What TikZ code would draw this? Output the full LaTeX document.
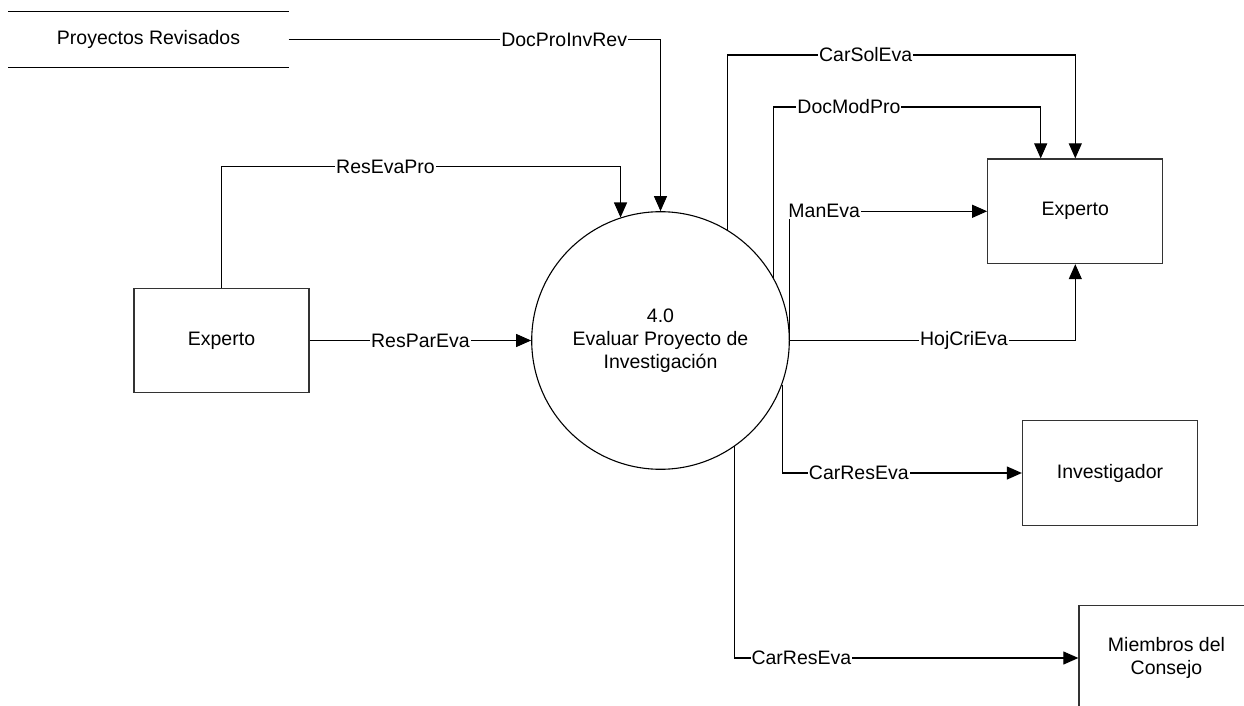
\documentclass[tikz,border=0pt]{standalone}
\usepackage{fontspec}
\setmainfont{Liberation Sans}
\usetikzlibrary{arrows.meta}
\begin{document}
\begin{tikzpicture}[x=0.5pt,y=-0.5pt,
  font=\fontsize{9.75}{11.5}\selectfont,
  line width=0.55pt,
  store/.style={minimum width=139.5pt, minimum height=27.5pt, inner sep=0pt},
  ent/.style={draw=black!80, line width=0.65pt, minimum width=87.5pt, minimum height=52.25pt, inner sep=0pt, align=center},
  procnode/.style={circle, draw, minimum size=128.8pt, inner sep=0pt, align=center},
  flow/.style={-{Triangle[length=7.5pt,width=6.5pt]}},
  lbl/.style={fill=white, inner sep=0.5pt}]
\clip (0,0) rectangle (1244,706);

% nodes
\node[store] (ds) at (148.5,39.5) {Proyectos Revisados};
\draw (ds.north west) -- (ds.north east) (ds.south west) -- (ds.south east);
\node[procnode] (p) at (660.5,340.5) {4.0\\Evaluar Proyecto de\\Investigación};
\node[ent] (expL) at (221.5,340.5) {Experto};
\node[ent] (expR) at (1075.3,211.3) {Experto};
\node[ent] (inv) at (1110,473) {Investigador};
\node[ent] (miem) at (1166.5,658) {Miembros del\\Consejo};

% connectors
\draw[flow] (ds.east) -- node[lbl,pos=0.741]{DocProInvRev} (ds.east -| p.north) -- (p.north);
\draw[flow] (expL.north) -- (expL.north |- 0,166.5) -- node[lbl,pos=0.411]{ResEvaPro} (p.108.65 |- 0,166.5) -- (p.108.65);
\draw[flow] (expL.east) -- node[lbl]{ResParEva} (p.west);
\draw[flow] (p.59.6) -- (p.59.6 |- 0,55) -- node[lbl,pos=0.398]{CarSolEva} (expR.north |- 0,55) -- (expR.north);
\draw[flow] (p.29.8) -- (p.29.8 |- 0,107) -- node[lbl,pos=0.282]{DocModPro} (1040.7,107) -- (expR.north -| 1040.7,0);
\draw[flow] (p.east) |- node[lbl,pos=0.587]{ManEva} (expR.west);
\draw[flow] (p.east) -| node[lbl,pos=0.305]{HojCriEva} (expR.south);
\draw[flow] (p.-20.7) |- node[lbl,pos=0.66]{CarResEva} (inv.west);
\draw[flow] (p.-55.7) |- node[lbl,pos=0.597]{CarResEva} (miem.west);
\end{tikzpicture}
\end{document}
